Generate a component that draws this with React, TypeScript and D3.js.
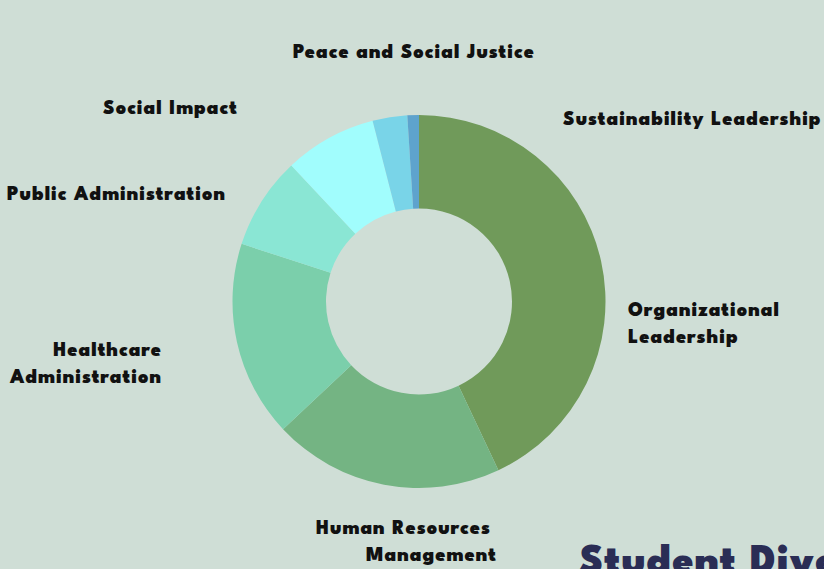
import React from "react";
import * as d3 from "d3";

const categories = [
  "Organizational Leadership",
  "Human Resources Management",
  "Healthcare Administration",
  "Public Administration",
  "Social Impact",
  "Peace and Social Justice",
  "Sustainability Leadership",
];
const values = [43, 20, 17, 8, 8, 3, 1];
const colors = ["#709a5a", "#74b483", "#7bcfab", "#8ae6d4", "#a1fdfd", "#79d4e8", "#5ea3cd"];

// label layout (lines, anchor, x, first baseline)
const labelLayout: { lines: string[]; anchor: string; x: number[]; y: number }[] = [
  { lines: ["Organizational", "Leadership"], anchor: "start", x: [628, 628], y: 316 },
  { lines: ["Human Resources", "Management"], anchor: "end", x: [491, 497], y: 534 },
  { lines: ["Healthcare", "Administration"], anchor: "end", x: [162, 162], y: 356 },
  { lines: ["Public Administration"], anchor: "start", x: [7], y: 200 },
  { lines: ["Social Impact"], anchor: "start", x: [103], y: 114 },
  { lines: ["Peace and Social Justice"], anchor: "start", x: [293], y: 58 },
  { lines: ["Sustainability Leadership"], anchor: "start", x: [563], y: 125 },
];

const W = 824;
const H = 569;
const cx = 419;
const cy = 301.5;
const outerR = 186.5;
const innerR = 93;
const font = "'League Spartan', Lato, 'Open Sans', sans-serif";

export default function App() {
  const pie = d3.pie<number>().sort(null).value((d) => d);
  const arcs = pie(values);
  const arc = d3.arc<d3.PieArcDatum<number>>().innerRadius(innerR).outerRadius(outerR);
  return (
    <svg
      width={W}
      height={H}
      style={{ position: "fixed", left: 0, top: 0, display: "block" }}
    >
      <rect width={W} height={H} fill="#cfded6" />
      <g transform={`translate(${cx},${cy})`}>
        {arcs.map((a, i) => (
          <path key={categories[i]} d={arc(a) || ""} fill={colors[i]} />
        ))}
      </g>
      <g fontFamily={font} fontWeight={900} fontSize={20} letterSpacing={1} fill="#111">
        {labelLayout.map((l, i) => (
          <text key={categories[i]} textAnchor={l.anchor}>
            {l.lines.map((line, j) => (
              <tspan key={j} x={l.x[j]} y={l.y + j * 27}>
                {line}
              </tspan>
            ))}
          </text>
        ))}
      </g>
      <text x={579} y={573} fontFamily={font} fontWeight={900} fontSize={42} letterSpacing={1} fill="#2a2d55">
        Student Diversity
      </text>
    </svg>
  );
}
